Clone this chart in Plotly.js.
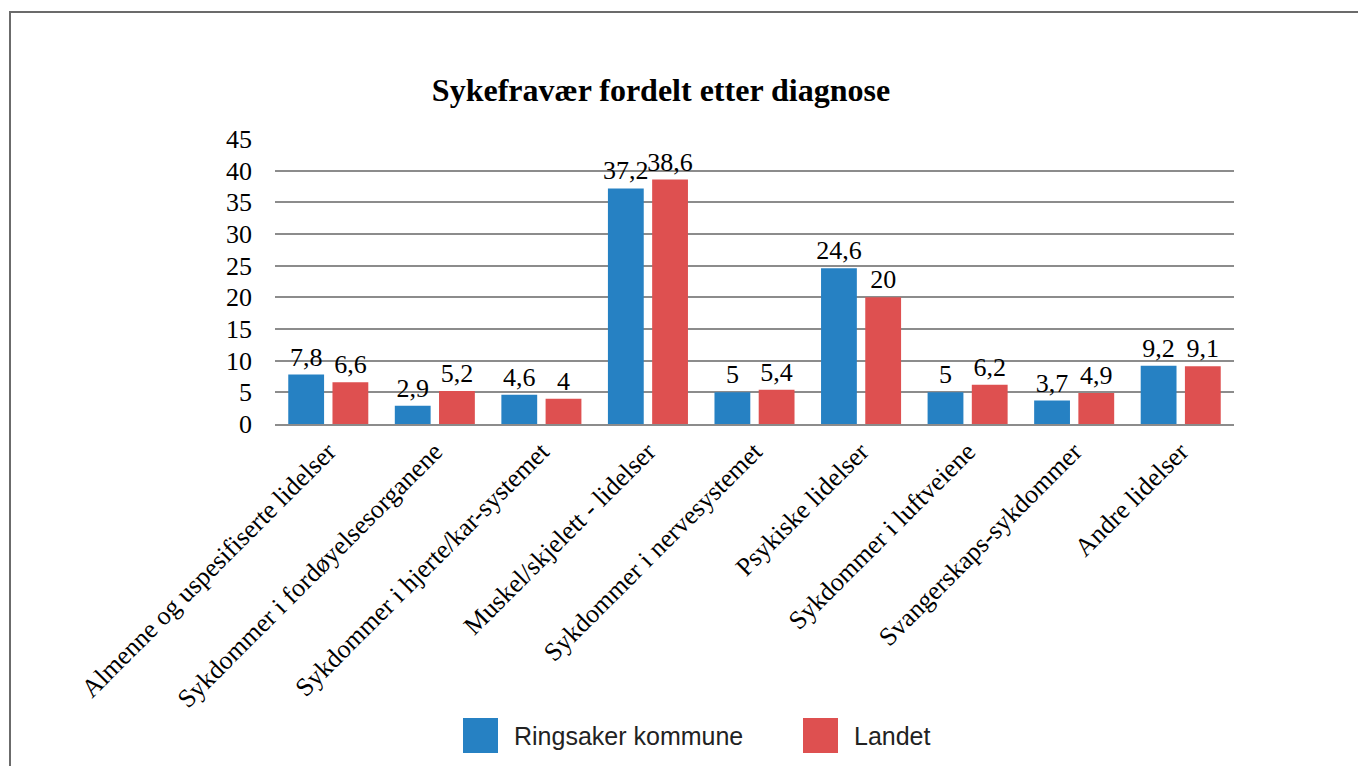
<!DOCTYPE html>
<html>
<head>
<meta charset="utf-8">
<script src="https://cdn.plot.ly/plotly-3.0.1.min.js"></script>
<style>
html,body{margin:0;padding:0;background:#fff;overflow:hidden;}
#frame{position:absolute;left:9px;top:11px;width:1400px;height:800px;border:2px solid #6b6b6b;box-sizing:border-box;}
#chart{position:absolute;left:0;top:0;width:1358px;height:766px;}
</style>
</head>
<body>
<div id="frame"></div>
<div id="chart"></div>
<script>
const categories = [
  "Almenne og uspesifiserte lidelser",
  "Sykdommer i fordøyelsesorganene",
  "Sykdommer i hjerte/kar-systemet",
  "Muskel/skjelett - lidelser",
  "Sykdommer i nervesystemet",
  "Psykiske lidelser",
  "Sykdommer i luftveiene",
  "Svangerskaps-sykdommer",
  "Andre lidelser"
];
const seriesNames = ["Ringsaker kommune", "Landet"];
const ringsaker = [7.8, 2.9, 4.6, 37.2, 5, 24.6, 5, 3.7, 9.2];
const landet = [6.6, 5.2, 4, 38.6, 5.4, 20, 6.2, 4.9, 9.1];
const yTicks = [0, 5, 10, 15, 20, 25, 30, 35, 40, 45];

const colors = ["#2681C3", "#DE5050"];
const serif = "Liberation Serif, Times New Roman, serif";
const fmt = v => String(v).replace(".", ",");

const traces = [ringsaker, landet].map((vals, i) => ({
  type: "bar",
  name: seriesNames[i],
  x: categories,
  y: vals,
  marker: {color: colors[i]},
  text: vals.map(fmt),
  textposition: "outside",
  constraintext: "none",
  cliponaxis: false,
  textfont: {family: serif, size: 26, color: "#000"},
  hoverinfo: "x+y",
  showlegend: false
}));

const W = 1358, H = 766;
const mL = 275, mR = 124, mT = 139, mB = 342;
const pw = W - mL - mR, ph = H - mT - mB;
const px = x => (x - mL) / pw;
const py = y => (H - mB - y) / ph;

const shapes = [];
const annotations = [];
const legendX = [463, 803];
seriesNames.forEach((n, i) => {
  shapes.push({type: "rect", xref: "paper", yref: "paper",
    x0: px(legendX[i]), x1: px(legendX[i] + 35), y0: py(753), y1: py(718),
    fillcolor: colors[i], line: {width: 0}});
  annotations.push({xref: "paper", yref: "paper", x: px(legendX[i] + 49), y: py(735.5),
    xanchor: "left", yanchor: "middle", showarrow: false, text: n,
    font: {family: "Liberation Sans, Arial, sans-serif", size: 25, color: "#222"}});
});

const layout = {
  width: W, height: H,
  margin: {l: mL, r: mR, t: mT, b: mB},
  paper_bgcolor: "rgba(0,0,0,0)",
  plot_bgcolor: "rgba(0,0,0,0)",
  title: {text: "<b>Sykefravær fordelt etter diagnose</b>", x: 661 / W, xanchor: "center",
    y: 1 - 90 / H, yanchor: "middle", xref: "container", yref: "container",
    font: {family: serif, size: 32, color: "#000"}},
  barmode: "group",
  bargap: 0.17,
  bargroupgap: 0.19,
  xaxis: {
    tickangle: -45,
    tickfont: {family: serif, size: 26, color: "#000"},
    showgrid: false,
    showline: true, linecolor: "#8c8c8c", linewidth: 2,
    ticks: ""
  },
  yaxis: {
    range: [0, 45],
    tickvals: yTicks,
    ticktext: yTicks.map(String),
    tickfont: {family: serif, size: 26, color: "#000"},
    showgrid: true, gridcolor: "#8c8c8c", gridwidth: 2,
    zeroline: false,
    showline: false,
    ticks: "",
    ticklabelstandoff: 22
  },
  shapes: shapes,
  annotations: annotations,
  showlegend: false
};

Plotly.newPlot("chart", traces, layout, {displayModeBar: false, staticPlot: true});
</script>
</body>
</html>
